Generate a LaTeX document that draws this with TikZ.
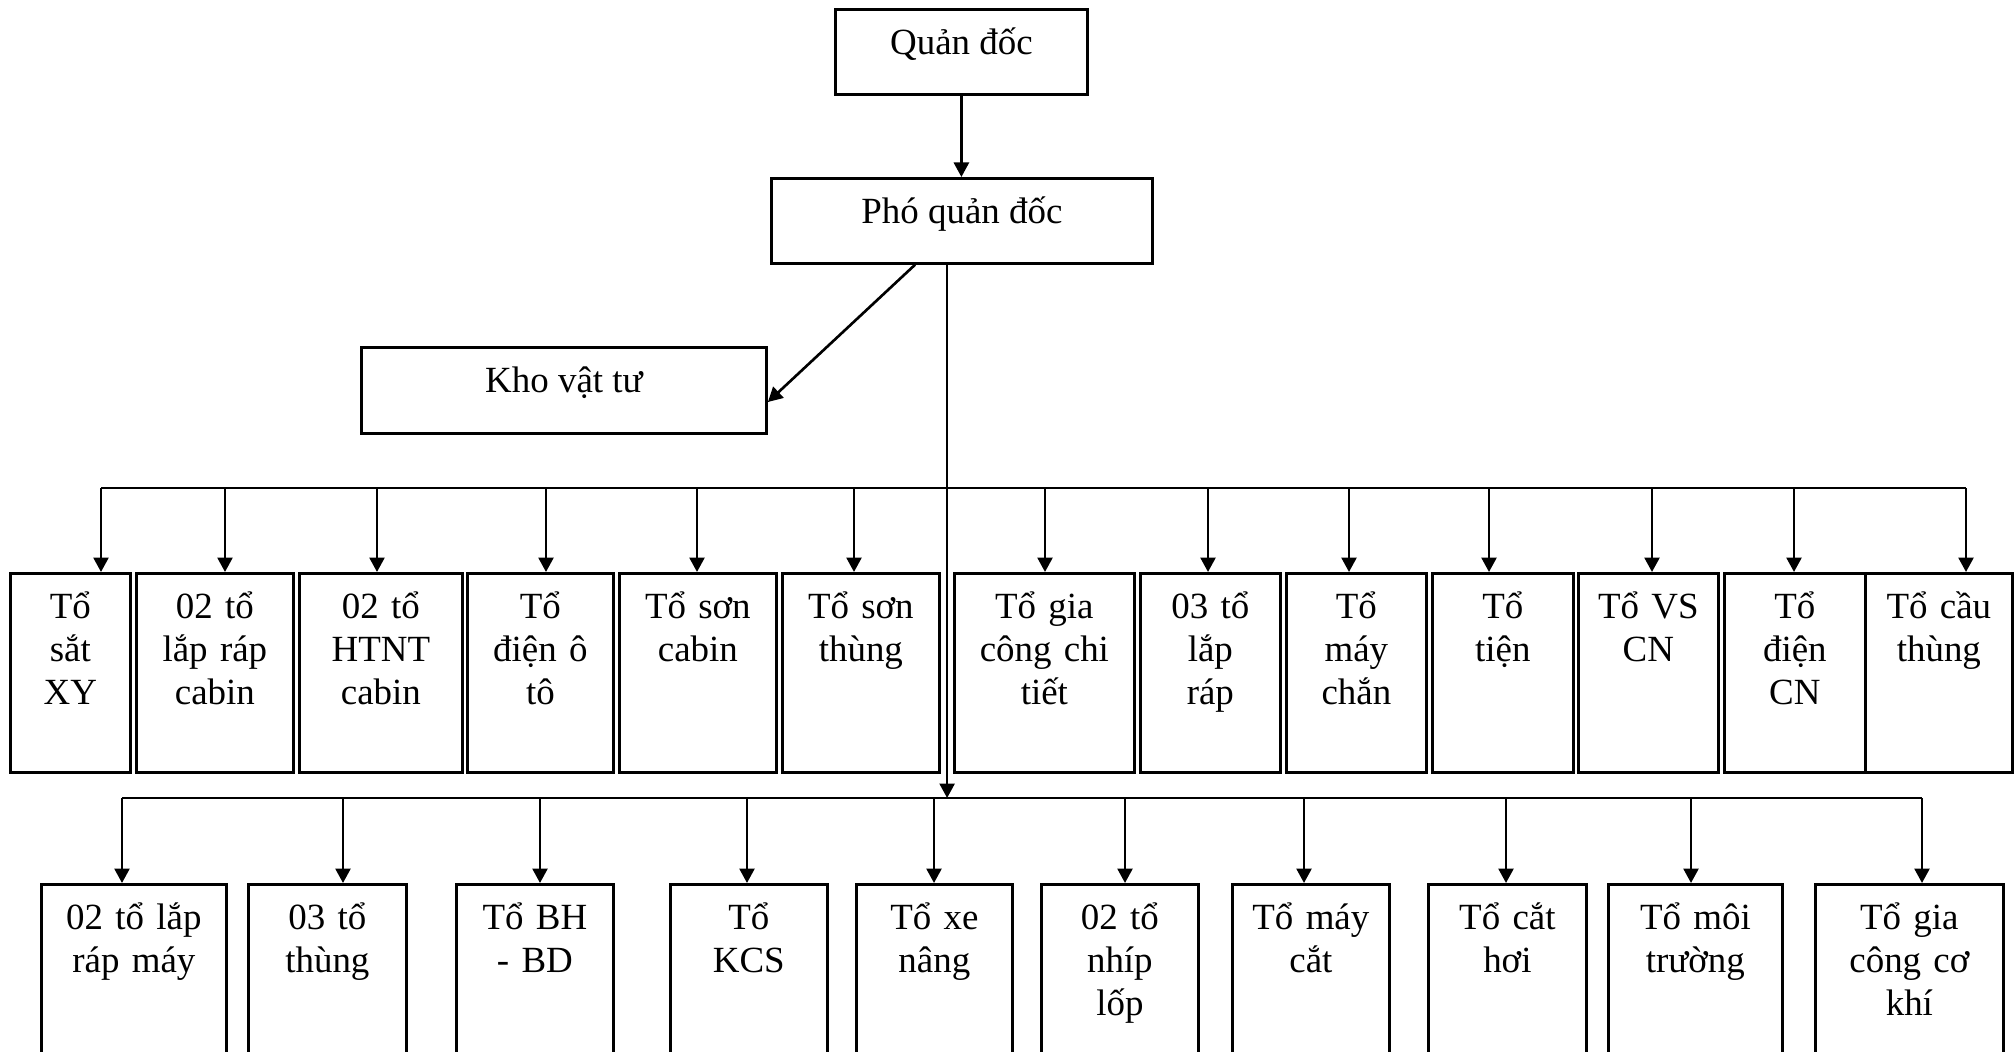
\documentclass[tikz,border=0pt]{standalone}
\usepackage{fontspec}
\setmainfont{Liberation Serif}
\usetikzlibrary{arrows.meta}
\tikzset{
  unit/.style={draw, inner sep=0pt, anchor=north west, align=center, text height=0.45cm},
  arr/.style={-{Triangle[length=1.45mm,width=1.5mm]}}
}
\begin{document}
\begin{tikzpicture}[x=0.01cm, y=-0.01cm, line width=0.75pt, font=\fontsize{10.5}{12.2}\selectfont]
  \useasboundingbox (0,0) rectangle (2015,1051);
  \clip (0,0) rectangle (2015,1051);
  % management
  \node[unit, minimum width=2.52cm, text depth=0.40cm] (qd) at (834,8) {Quản đốc};
  \node[unit, minimum width=3.81cm, text depth=0.40cm] (pqd) at (770,177) {Phó quản đốc};
  \node[unit, minimum width=4.05cm, text depth=0.41cm] (kho) at (360,346) {Kho vật tư};
  % upper row
  \node[unit, text width=1.20cm, text depth=1.54cm] (u1) at (9,572) {Tổ\\sắt\\XY};
  \node[unit, text width=1.57cm, text depth=1.54cm] (u2) at (135,572) {02 tổ\\lắp ráp\\cabin};
  \node[unit, text width=1.63cm, text depth=1.54cm] (u3) at (298,572) {02 tổ\\HTNT\\cabin};
  \node[unit, text width=1.46cm, text depth=1.54cm] (u4) at (466,572) {Tổ\\điện ô\\tô};
  \node[unit, text width=1.57cm, text depth=1.54cm] (u5) at (618,572) {Tổ sơn\\cabin};
  \node[unit, text width=1.57cm, text depth=1.54cm] (u6) at (781,572) {Tổ sơn\\thùng};
  \node[unit, text width=1.80cm, text depth=1.54cm] (u7) at (953,572) {Tổ gia\\công chi\\tiết};
  \node[unit, text width=1.40cm, text depth=1.54cm] (u8) at (1139,572) {03 tổ\\lắp\\ráp};
  \node[unit, text width=1.40cm, text depth=1.54cm] (u9) at (1285,572) {Tổ\\máy\\chắn};
  \node[unit, text width=1.41cm, text depth=1.54cm] (u10) at (1431,572) {Tổ\\tiện};
  \node[unit, text width=1.40cm, text depth=1.54cm] (u11) at (1577,572) {Tổ VS\\CN};
  \node[unit, text width=1.41cm, text depth=1.54cm] (u12) at (1723,572) {Tổ\\điện\\CN};
  \node[unit, text width=1.47cm, text depth=1.54cm] (u13) at (1864,572) {Tổ cầu\\thùng};
  % lower row
  \node[unit, text width=1.85cm, text depth=1.55cm] (l1) at (40,883) {02 tổ lắp\\ráp máy};
  \node[unit, text width=1.58cm, text depth=1.55cm] (l2) at (247,883) {03 tổ\\thùng};
  \node[unit, text width=1.57cm, text depth=1.55cm] (l3) at (455,883) {Tổ BH\\- BD};
  \node[unit, text width=1.57cm, text depth=1.55cm] (l4) at (669,883) {Tổ\\KCS};
  \node[unit, text width=1.56cm, text depth=1.55cm] (l5) at (855,883) {Tổ xe\\nâng};
  \node[unit, text width=1.57cm, text depth=1.55cm] (l6) at (1040,883) {02 tổ\\nhíp\\lốp};
  \node[unit, text width=1.57cm, text depth=1.55cm] (l7) at (1231,883) {Tổ máy\\cắt};
  \node[unit, text width=1.58cm, text depth=1.55cm] (l8) at (1427,883) {Tổ cắt\\hơi};
  \node[unit, text width=1.74cm, text depth=1.55cm] (l9) at (1607,883) {Tổ môi\\trường};
  \node[unit, text width=1.88cm, text depth=1.55cm] (l10) at (1814,883) {Tổ gia\\công cơ\\khí};
  % connectors
  \begin{scope}[arr]
    \draw (qd.south) -- (qd.south |- pqd.north);
    \draw ([xshift=1.45cm]pqd.south west) -- ([yshift=-0.56cm]kho.north east);
    \foreach \n/\x in {1/101, 2/225, 3/377, 4/546, 5/697, 6/854, 7/1045,
                       8/1208, 9/1349, 10/1489, 11/1652, 12/1794, 13/1966} {
      \coordinate (ub\n) at (\x,488);
      \draw (ub\n) -- (ub\n |- u\n.north);
    }
    \foreach \n/\x in {1/122, 2/343, 3/540, 4/747, 5/934, 6/1125, 7/1304,
                       8/1506, 9/1691, 10/1922} {
      \coordinate (lb\n) at (\x,798);
      \draw (lb\n) -- (lb\n |- l\n.north);
    }
    \coordinate (stem) at ([xshift=1.77cm]pqd.south west);
    \draw (stem) -- (stem |- lb1);
  \end{scope}
  \draw (ub1) -- (ub13);
  \draw (lb1) -- (lb10);
\end{tikzpicture}
\end{document}
